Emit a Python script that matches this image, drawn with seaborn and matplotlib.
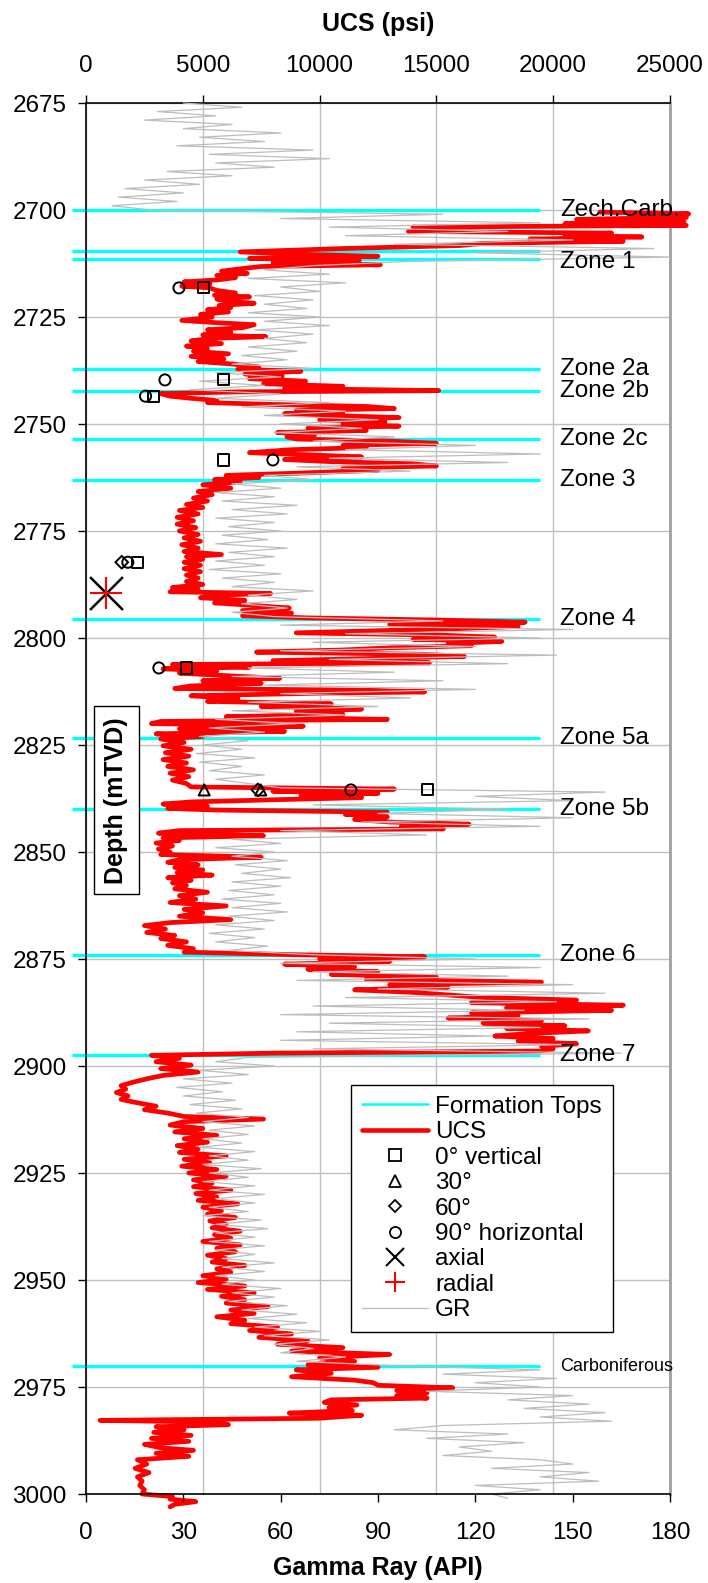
import numpy as np
import pandas as pd
import matplotlib
matplotlib.use("Agg")
import matplotlib.pyplot as plt
import seaborn as sns
from matplotlib.lines import Line2D

sns.set_theme(style="white")
plt.rcParams['font.family'] = ['Liberation Sans', 'DejaVu Sans']
plt.rcParams['text.color'] = 'black'
plt.rcParams['axes.labelcolor'] = 'black'
plt.rcParams['xtick.color'] = 'black'
plt.rcParams['ytick.color'] = 'black'

# ---------------------------------------------------------------- data
# formation tops (depth, mTVD)
top_depths = [2700.0, 2709.5, 2711.5, 2737.2, 2742.4, 2753.6, 2763.0,
              2795.6, 2823.3, 2840.0, 2874.0, 2897.5, 2970.2]
top_labels = ["Zech.Carb.", "", "Zone 1", "Zone 2a", "Zone 2b", "Zone 2c",
              "Zone 3", "Zone 4", "Zone 5a", "Zone 5b", "Zone 6", "Zone 7",
              "Carboniferous"]

# log-derived UCS profile (depth mTVD, psi)
ucs_depth = [
    2700.5, 2700.9, 2701.3, 2701.7, 2702.2, 2702.8, 2703.2, 2703.6, 2704.0, 2704.6,
    2705.0, 2705.4, 2705.9, 2706.3, 2706.8, 2707.3, 2707.8, 2708.3, 2709.0, 2709.8,
    2710.4, 2710.8, 2711.3, 2711.8, 2712.3, 2712.8, 2713.2, 2713.8, 2714.3, 2714.8,
    2715.3, 2715.8, 2716.3, 2716.8, 2717.3, 2717.8, 2718.2, 2718.8, 2719.4, 2719.9,
    2720.3, 2720.8, 2721.3, 2721.8, 2722.3, 2722.8, 2723.3, 2723.8, 2724.4, 2725.0,
    2725.8, 2726.3, 2726.8, 2727.5, 2728.0, 2728.6, 2729.2, 2729.6, 2730.0, 2730.6,
    2731.2, 2731.8, 2732.4, 2733.0, 2733.6, 2734.2, 2734.8, 2735.4, 2736.0, 2736.7,
    2737.2, 2737.7, 2738.3, 2738.8, 2739.4, 2740.0, 2740.6, 2741.2, 2741.7, 2742.2,
    2742.5, 2742.9, 2743.5, 2744.0, 2744.5, 2745.0, 2745.5, 2745.9, 2746.4, 2746.8,
    2747.2, 2747.6, 2748.0, 2748.5, 2749.0, 2749.5, 2750.0, 2750.5, 2751.0, 2751.5,
    2752.0, 2752.5, 2753.0, 2753.5, 2754.0, 2754.5, 2755.0, 2755.5, 2756.0, 2756.7,
    2757.2, 2757.7, 2758.3, 2758.8, 2759.3, 2759.8, 2760.3, 2760.8, 2761.5, 2762.0,
    2762.5, 2763.0, 2763.5, 2764.2, 2765.0, 2765.8, 2766.5, 2767.3, 2768.0, 2768.8,
    2769.5, 2770.2, 2771.0, 2771.8, 2772.6, 2773.4, 2774.2, 2775.0, 2775.8, 2776.6,
    2777.4, 2778.2, 2779.0, 2779.8, 2780.5, 2781.0, 2781.6, 2782.3, 2783.0, 2783.8,
    2784.5, 2785.3, 2786.0, 2786.8, 2787.5, 2788.2, 2788.6, 2789.2, 2789.6, 2790.0,
    2790.6, 2791.2, 2791.8, 2792.4, 2793.0, 2793.6, 2794.2, 2794.8, 2795.3, 2795.8,
    2796.3, 2796.8, 2797.3, 2797.8, 2798.3, 2798.8, 2799.3, 2799.8, 2800.3, 2800.8,
    2801.3, 2801.8, 2802.3, 2802.8, 2803.3, 2803.8, 2804.3, 2804.8, 2805.3, 2805.8,
    2806.2, 2806.8, 2807.2, 2807.7, 2808.2, 2808.8, 2809.4, 2810.0, 2810.6, 2811.2,
    2811.8, 2812.2, 2812.6, 2813.0, 2813.5, 2814.2, 2814.8, 2815.4, 2816.0, 2816.6,
    2817.2, 2817.8, 2818.4, 2819.0, 2819.5, 2820.0, 2820.6, 2821.2, 2821.8, 2822.4,
    2823.0, 2823.6, 2824.4, 2825.2, 2826.0, 2826.8, 2827.6, 2828.4, 2829.2, 2830.0,
    2830.8, 2831.6, 2832.4, 2833.2, 2834.0, 2834.8, 2835.3, 2835.8, 2836.3, 2836.8,
    2837.3, 2837.8, 2838.3, 2838.8, 2839.3, 2839.8, 2840.2, 2840.7, 2841.2, 2841.8,
    2842.4, 2843.0, 2843.5, 2844.0, 2844.6, 2845.0, 2845.6, 2846.2, 2846.7, 2847.3,
    2847.9, 2848.6, 2849.3, 2850.0, 2850.6, 2851.2, 2851.8, 2852.4, 2853.0, 2853.6,
    2854.2, 2854.8, 2855.4, 2856.0, 2856.6, 2857.2, 2857.8, 2858.6, 2859.4, 2860.2,
    2861.0, 2861.8, 2862.6, 2863.4, 2864.2, 2865.0, 2865.8, 2866.5, 2867.2, 2868.0,
    2868.8, 2869.5, 2870.2, 2871.0, 2871.8, 2872.6, 2873.4, 2874.0, 2874.5, 2875.0,
    2875.6, 2876.2, 2876.8, 2877.4, 2878.0, 2878.6, 2879.2, 2879.8, 2880.4, 2881.0,
    2881.6, 2882.2, 2882.8, 2883.4, 2884.0, 2884.6, 2885.2, 2885.8, 2886.4, 2887.0,
    2887.6, 2888.2, 2888.8, 2889.4, 2890.0, 2890.6, 2891.2, 2891.8, 2892.4, 2893.0,
    2893.6, 2894.2, 2894.8, 2895.4, 2896.0, 2896.5, 2897.0, 2897.5, 2898.2, 2899.0,
    2899.8, 2900.6, 2901.4, 2902.2, 2903.0, 2903.8, 2904.6, 2905.4, 2906.2, 2907.0,
    2907.8, 2908.6, 2909.4, 2910.2, 2911.0, 2911.8, 2912.4, 2913.0, 2913.8, 2914.6,
    2915.4, 2916.2, 2917.0, 2917.8, 2918.6, 2919.4, 2920.2, 2921.0, 2921.8, 2922.6,
    2923.4, 2924.2, 2925.0, 2925.8, 2926.6, 2927.4, 2928.2, 2929.0, 2929.8, 2930.6,
    2931.4, 2932.2, 2933.0, 2933.8, 2934.6, 2935.4, 2936.2, 2937.0, 2937.8, 2938.6,
    2939.4, 2940.2, 2941.0, 2941.8, 2942.6, 2943.4, 2944.2, 2945.0, 2945.8, 2946.6,
    2947.4, 2948.2, 2949.0, 2949.8, 2950.6, 2951.4, 2952.2, 2953.0, 2953.8, 2954.6,
    2955.4, 2956.2, 2957.0, 2957.8, 2958.6, 2959.4, 2960.2, 2961.0, 2961.8, 2962.6,
    2963.4, 2964.2, 2965.0, 2965.8, 2966.6, 2967.4, 2968.2, 2969.0, 2969.8, 2970.4,
    2971.0, 2971.8, 2972.6, 2973.4, 2974.0, 2974.6, 2975.2, 2975.8, 2976.4, 2977.0,
    2977.6, 2978.0, 2978.6, 2979.2, 2979.8, 2980.5, 2981.1, 2981.6, 2982.3, 2982.8,
    2983.2, 2983.8, 2984.3, 2985.0, 2985.6, 2986.3, 2987.0, 2987.7, 2988.4, 2989.2,
    2989.8, 2990.5, 2991.2, 2992.0, 2993.0, 2994.0, 2995.0, 2996.0, 2997.0, 2998.0,
    2999.0, 3000.0, 3000.6, 3001.2, 3001.8, 3002.4, 3003.0,
]
ucs_psi = [
    22000, 25800, 23500, 25700, 21000, 25600, 20500, 25700, 14000, 15500,
    13800, 22500, 20500, 23800, 19000, 23000, 17000, 16000, 11000, 6600,
    9500, 12500, 7000, 11700, 8000, 12600, 7500, 6500, 5800, 6900,
    5600, 6400, 5700, 4200, 5300, 4100, 5300, 5600, 6400, 5500,
    7000, 5600, 6000, 7200, 5700, 6200, 5200, 6100, 4900, 5400,
    4100, 5500, 7200, 6700, 5200, 6200, 5000, 7700, 5300, 4500,
    5800, 4300, 5200, 4600, 6100, 4500, 5900, 4800, 6300, 7400,
    6500, 9200, 6800, 8400, 7000, 9400, 7600, 11000, 8500, 15100,
    6500, 3200, 3600, 4500, 5600, 5200, 8500, 12000, 13200, 9000,
    11000, 8500, 10500, 13400, 10000, 12800, 11000, 13400, 9500, 12000,
    8200, 9800, 8600, 9000, 13000, 15000, 11000, 12000, 8800, 7000,
    9500, 11800, 8500, 10500, 14000, 15000, 11000, 12500, 9000, 6000,
    7400, 5500, 6600, 5000, 6200, 4800, 5400, 4600, 5200, 4300,
    5000, 4000, 4800, 3900, 4600, 3900, 4700, 4000, 4800, 4200,
    4900, 4100, 4800, 4200, 5800, 4300, 5000, 4200, 4900, 4200,
    4900, 4300, 4800, 4300, 5000, 3700, 4800, 3600, 7900, 5500,
    4900, 6800, 5500, 7200, 8700, 6700, 8800, 6700, 9500, 15000,
    18800, 13000, 18500, 16000, 12500, 9000, 15000, 17500, 14000, 17800,
    15500, 16500, 13000, 11000, 7300, 14500, 16200, 12000, 8000, 14700,
    3700, 7000, 3300, 5600, 4000, 6000, 8300, 5000, 7500, 4500,
    3800, 12000, 14500, 9000, 4500, 6500, 5200, 10500, 7500, 11800,
    9000, 11000, 6000, 12900, 3200, 2800, 9300, 4000, 8500, 3000,
    5000, 3200, 4200, 3300, 4500, 3400, 4400, 3300, 4300, 3500,
    4600, 3600, 4400, 3700, 4300, 4500, 13200, 8000, 12500, 9200,
    11800, 8000, 4500, 3300, 5200, 3500, 5600, 12900, 11100, 12900,
    11500, 13000, 16400, 13500, 15300, 4000, 3100, 7600, 3300, 4000,
    3000, 3700, 3100, 3600, 3200, 7500, 4000, 3500, 4800, 3800,
    5000, 3900, 5400, 3500, 4500, 3700, 4300, 3800, 5200, 4000,
    4700, 3600, 6000, 4200, 5000, 4000, 6200, 3600, 2500, 3400,
    2600, 3800, 3200, 4300, 3500, 4600, 4200, 9000, 14500, 10000,
    13000, 8500, 11500, 9500, 12500, 10500, 15000, 12000, 19500, 13000,
    15500, 11500, 14000, 15500, 17000, 21000, 16500, 23000, 18000, 22500,
    16500, 18500, 15500, 19500, 17000, 20500, 18000, 21500, 19000, 17500,
    20000, 18500, 21000, 19500, 20000, 19500, 8000, 2800, 4000, 3000,
    4500, 3200, 4800, 3300, 2600, 2000, 1500, 1700, 1300, 1800,
    1500, 2200, 3000, 2500, 3500, 4200, 7600, 4200, 3600, 5000,
    3800, 5600, 4200, 5200, 3900, 4800, 4000, 6000, 4200, 5300,
    4100, 5600, 4400, 6000, 4600, 5400, 4600, 6200, 4700, 5600,
    4800, 6500, 5000, 5800, 5200, 6400, 5300, 6000, 5400, 6600,
    5500, 6200, 5000, 6600, 5600, 6400, 5200, 6000, 5400, 6800,
    5600, 6200, 5000, 6000, 4800, 6800, 5200, 7200, 5800, 6800,
    6000, 7800, 6200, 7200, 5600, 6800, 6200, 8200, 7000, 8800,
    7400, 9500, 8200, 11000, 8800, 13000, 10000, 11500, 9500, 12500,
    9000, 10500, 8800, 11500, 12300, 12500, 15700, 13300, 14600, 13300,
    14600, 10500, 10200, 11600, 10400, 11400, 8700, 11800, 10000, 600,
    5500, 6100, 3000, 4200, 2900, 4500, 2800, 4400, 2500, 3200,
    4600, 3000, 4400, 2200, 2600, 2100, 2700, 2200, 2400, 2300,
    2500, 2400, 3700, 3600, 4700, 3800, 3600,
]

# gamma ray log, 1 m sampling from 2675 mTVD (API)
gr_top = 2675.0
gr_api = [
    30, 48, 22, 40, 18, 45, 30, 60, 35, 55, 28, 70, 38, 75, 40, 58, 25, 45, 18, 35,
    12, 30, 10, 28, 8, 20,
    110, 60, 140, 75, 130, 80, 150, 95, 175, 120, 180, 100, 70, 55, 75, 50, 80, 60,
    72, 52, 70, 55, 68, 50, 72, 55, 75, 52, 70, 55, 68, 50, 65, 48, 62, 45, 70, 40,
    60, 35, 55, 32, 60, 40, 75, 48, 80, 55, 90, 60, 85, 58, 95, 70, 120, 80, 140, 75,
    130, 65, 100, 55, 70, 45, 60, 40, 58, 42, 65, 45, 62, 40, 58, 44, 60, 42, 56, 40,
    62, 44, 58, 40, 55, 38, 60, 42, 58, 45, 70, 50, 65, 48, 62, 45, 58, 110, 60, 150,
    80, 140, 70, 120, 60, 145, 75, 130, 50, 95, 45, 110, 55, 120, 60, 100, 50, 90, 45,
    80, 40, 65, 38, 55, 35, 50, 36, 48, 34, 52, 35, 48, 38, 55, 40, 50, 60, 160, 120,
    150, 70, 130, 90, 150, 85, 140, 60, 105, 45, 60, 40, 58, 45, 62, 46, 60, 48, 63,
    45, 60, 44, 58, 42, 60, 45, 62, 44, 58, 40, 55, 38, 52, 40, 56, 44, 70, 120, 60,
    140, 70, 130, 65, 150, 90, 160, 80, 145, 70, 135, 60, 155, 75, 140, 65, 125, 60,
    150, 70, 165, 50, 40, 58, 35, 50, 30, 45, 28, 42, 30, 46, 32, 48, 34, 50, 36, 52,
    38, 50, 36, 48, 35, 52, 38, 50, 36, 54, 38, 50, 36, 52, 38, 55, 40, 52, 38, 50,
    36, 54, 40, 56, 40, 52, 38, 55, 40, 52, 42, 58, 42, 55, 40, 52, 42, 60, 45, 58,
    44, 62, 48, 65, 50, 68, 52, 72, 55, 75, 58, 70, 60, 80, 65, 95, 140, 110, 145,
    120, 140, 105, 150, 130, 155, 135, 160, 140, 162, 110, 95, 130, 105, 135, 115, 125,
    110, 140, 150, 125, 155, 140, 158, 120, 140, 125, 130,
]
gr_depth = gr_top + np.arange(len(gr_api), dtype=float)

# core-plug UCS tests by plug orientation (depth, psi)
vert_depth = [2718.2, 2739.7, 2743.5, 2758.4, 2782.3, 2807.0, 2835.5]
vert_psi = [5020, 5880, 2900, 5880, 2210, 4310, 14620]
deg30_depth = [2835.5, 2835.5]
deg30_psi = [5060, 7480]
deg60_depth = [2782.3, 2835.5]
deg60_psi = [1530, 7360]
horiz_depth = [2718.2, 2739.7, 2743.5, 2758.4, 2782.3, 2807.0, 2835.5]
horiz_psi = [3980, 3380, 2550, 8000, 1790, 3120, 11340]
axial_depth = [2789.5]
axial_psi = [840]
radial_depth = [2789.5]
radial_psi = [840]

depth_ticks = list(range(2675, 3001, 25))
gr_ticks = [0, 30, 60, 90, 120, 150, 180]
ucs_ticks = [0, 5000, 10000, 15000, 20000, 25000]

# ---------------------------------------------------------------- figure
FS = 17.5
fig = plt.figure(figsize=(7.08, 15.83), dpi=100)
ax = fig.add_axes([86 / 708, 1 - 1494 / 1583, 584 / 708, 1391 / 1583])  # UCS (top)
ax_gr = ax.twiny()    # gamma ray (bottom)
ax_pts = ax.twiny()   # core plugs, labels, legend

ax.xaxis.tick_top()
ax.xaxis.set_label_position('top')
ax_gr.xaxis.tick_bottom()
ax_gr.xaxis.set_label_position('bottom')

ax.set_xlim(0, 25000)
ax_pts.set_xlim(0, 25000)
ax_gr.set_xlim(0, 180)
ax.set_ylim(3000, 2675)

# grid
ax.set_axisbelow(True)
ax.grid(True, color='#c0c0c0', linewidth=1.0)
ax.set_xticks(ucs_ticks)
ax.set_yticks(depth_ticks)
ax_gr.set_xticks(gr_ticks)
ax_gr.grid(False)
ax_pts.grid(False)

# formation tops
tops_x = [-620, 19450]
for d in top_depths:
    ax.plot(tops_x, [d, d], color='#00ffff', linewidth=2.4, clip_on=False, zorder=2,
            solid_capstyle='butt')

# UCS log
ucs_df = pd.DataFrame({'depth': ucs_depth, 'psi': ucs_psi})
sns.lineplot(data=ucs_df, x='psi', y='depth', sort=False, estimator=None, orient='y',
             color='#ff0000', linewidth=3.4, ax=ax, clip_on=False, zorder=3,
             solid_joinstyle='round', solid_capstyle='round')

# GR log
gr_df = pd.DataFrame({'depth': gr_depth, 'api': gr_api})
sns.lineplot(data=gr_df, x='api', y='depth', sort=False, estimator=None, orient='y',
             color='#bdbdbd', linewidth=0.9, ax=ax_gr, clip_on=False)

# core plug measurements
mk = dict(ax=ax_pts, facecolor='none', edgecolor='black', linewidth=1.4,
          zorder=6, clip_on=False, legend=False)
sns.scatterplot(x=vert_psi, y=vert_depth, marker='s', s=64, **mk)
sns.scatterplot(x=deg30_psi, y=deg30_depth, marker='^', s=64, **mk)
sns.scatterplot(x=deg60_psi, y=deg60_depth, marker='D', s=42, **mk)
sns.scatterplot(x=horiz_psi, y=horiz_depth, marker='o', s=64, **mk)
sns.scatterplot(x=axial_psi, y=axial_depth, marker='x', s=560, color='black',
                linewidth=1.8, ax=ax_pts, zorder=6, legend=False)
sns.scatterplot(x=radial_psi, y=radial_depth, marker='+', s=560, color='#ff0000',
                linewidth=1.5, ax=ax_pts, zorder=7, legend=False)

# formation top names
lab_tr = ax_pts.get_yaxis_transform()
for d, name in zip(top_depths, top_labels):
    if not name:
        continue
    size = 13 if name == "Carboniferous" else FS
    off = 0.6 if name == "Zone 1" else 0.0
    ax_pts.text(0.812, d + off, name, transform=lab_tr, fontsize=size,
                ha='left', va='center', zorder=8, clip_on=False)

# boxed depth label inside the track
ax_pts.text(0.0514, 2837.9, "Depth (mTVD)", transform=lab_tr, rotation=90,
            fontsize=18, fontweight='bold', ha='center', va='center', zorder=9,
            bbox=dict(boxstyle='square,pad=0.42', facecolor='white',
                      edgecolor='black', linewidth=1.0))

# axes styling
for a in (ax, ax_gr, ax_pts):
    for sp in a.spines.values():
        sp.set_visible(False)
ax.spines['top'].set_visible(True)
ax.spines['left'].set_visible(True)
ax.spines['right'].set_visible(True)
ax.spines['top'].set_color('black')
ax.spines['left'].set_color('black')
ax.spines['right'].set_color('#a0a0a0')
ax.spines['right'].set_linewidth(2.0)
ax.spines['top'].set_linewidth(1.2)
ax.spines['left'].set_linewidth(1.2)
ax_gr.spines['bottom'].set_visible(True)
ax_gr.spines['bottom'].set_color('black')
ax_gr.spines['bottom'].set_linewidth(1.2)
ax_pts.set_xticks([])
ax_pts.tick_params(axis='both', which='both', length=0, labelleft=False,
                   labelright=False, labeltop=False, labelbottom=False)

ax.tick_params(axis='x', which='major', top=True, bottom=False, direction='out',
               length=6, width=1.0, color='black', labelsize=FS, pad=13,
               labeltop=True, labelbottom=False)
ax.tick_params(axis='y', which='major', left=True, right=False, direction='out',
               length=6, width=1.0, color='black', labelsize=FS, pad=8)
ax_gr.tick_params(axis='x', which='major', bottom=True, top=False, direction='out',
                  length=6, width=1.0, color='black', labelsize=FS, pad=14,
                  labelbottom=True, labeltop=False)
ax_gr.set_ylabel("")
ax.set_ylabel("")
ax.set_xlabel("UCS (psi)", fontsize=18, fontweight='bold', labelpad=17)
ax_gr.set_xlabel("Gamma Ray (API)", fontsize=18, fontweight='bold', labelpad=9)
ax_pts.set_xlabel("")
ax_pts.set_ylabel("")

# legend
handles = [
    Line2D([], [], color='#00ffff', linewidth=1.8),
    Line2D([], [], color='#ff0000', linewidth=3.3),
    Line2D([], [], linestyle='none', marker='s', markersize=8, markerfacecolor='none',
           markeredgecolor='black', markeredgewidth=1.3),
    Line2D([], [], linestyle='none', marker='^', markersize=8, markerfacecolor='none',
           markeredgecolor='black', markeredgewidth=1.3),
    Line2D([], [], linestyle='none', marker='D', markersize=6.5, markerfacecolor='none',
           markeredgecolor='black', markeredgewidth=1.3),
    Line2D([], [], linestyle='none', marker='o', markersize=8, markerfacecolor='none',
           markeredgecolor='black', markeredgewidth=1.3),
    Line2D([], [], linestyle='none', marker='x', markersize=13, color='black',
           markeredgewidth=1.5),
    Line2D([], [], linestyle='none', marker='+', markersize=15, color='#ff0000',
           markeredgewidth=1.5),
    Line2D([], [], color='#c0c0c0', linewidth=1.0),
]
labels = ["Formation Tops", "UCS", "0° vertical", "30°", "60°", "90° horizontal",
          "axial", "radial", "GR"]
leg = ax_pts.legend(handles, labels, loc='upper left', bbox_to_anchor=(0.454, 0.294),
                    borderaxespad=0.0, fontsize=FS, frameon=True, fancybox=False,
                    edgecolor='black', framealpha=1.0, labelspacing=0.14,
                    handlelength=2.7, handletextpad=0.3, borderpad=0.45)
leg.get_frame().set_linewidth(1.0)
leg.set_zorder(10)

fig.savefig("out.png", dpi=100)
